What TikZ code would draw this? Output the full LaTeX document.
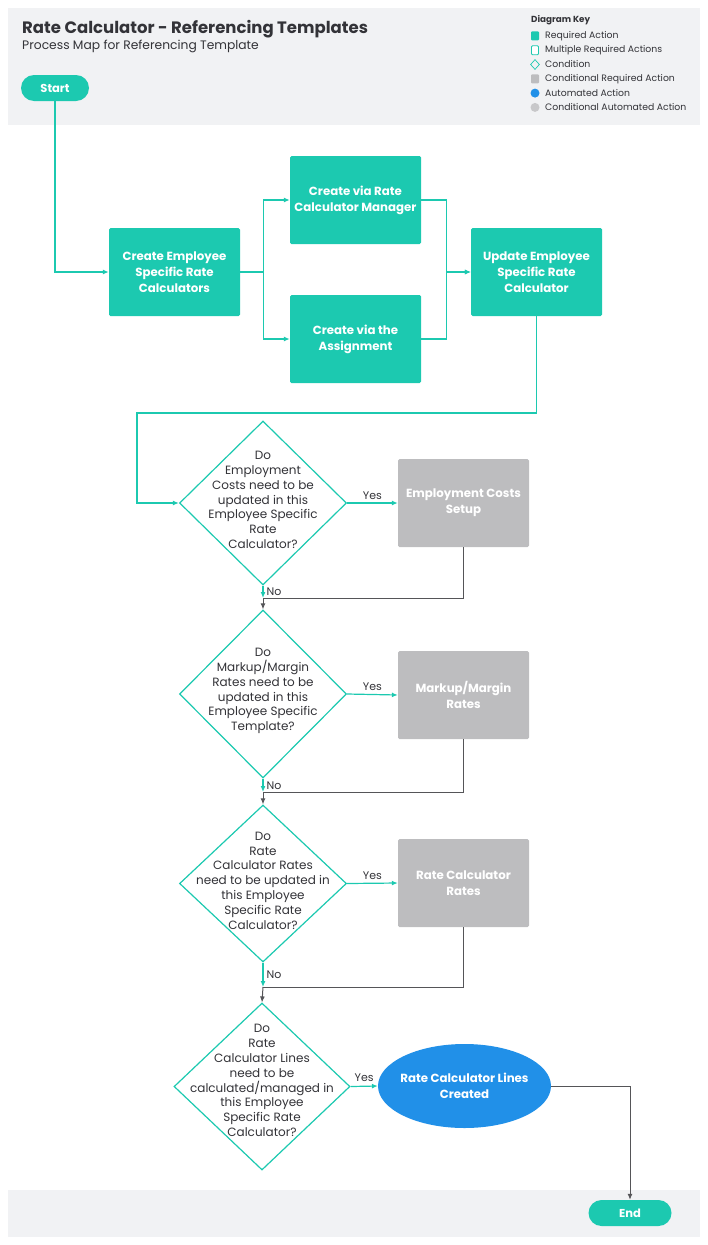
\documentclass[tikz,border=0pt]{standalone}
\usepackage{fontspec}
\setmainfont{Poppins}
\usetikzlibrary{shapes.geometric,arrows.meta}

\definecolor{mapteal}{RGB}{28,201,176}
\definecolor{mapgray}{RGB}{189,189,191}
\definecolor{mapltgray}{RGB}{200,200,202}
\definecolor{mapblue}{RGB}{33,144,232}
\definecolor{mapband}{RGB}{241,242,244}
\definecolor{maptext}{RGB}{51,51,56}
\definecolor{mapline}{RGB}{85,85,88}

\tikzset{
  action/.style={
    rectangle,
    rounded corners=1.5pt,
    fill=mapteal,
    text=white,
    font=\bfseries\fontsize{11.8}{16}\selectfont,
    align=center,
    minimum width=131pt,
    minimum height=88pt,
    inner sep=0pt
  },
  condaction/.style={action, fill=mapgray},
  cond/.style={
    diamond,
    draw=mapteal,
    line width=1.2pt,
    fill=white,
    minimum width=167pt,
    minimum height=164pt,
    inner sep=0pt
  },
  qtext/.style={align=center, text=maptext, font=\fontsize{12}{14.8}\selectfont},
  terminal/.style={
    rectangle,
    rounded corners=13pt,
    fill=mapteal,
    text=white,
    font=\bfseries\fontsize{11.5}{12}\selectfont,
    minimum height=26pt,
    inner sep=0pt
  },
  flow/.style={draw=mapteal, line width=1.2pt, -{Latex[length=6pt,width=5pt]}},
  mergeline/.style={draw=mapline, line width=1pt},
  mergearrow/.style={mergeline, -{Latex[length=6pt,width=5pt]}},
  lbl/.style={text=maptext, font=\fontsize{11}{12}\selectfont, inner sep=1pt},
  keytext/.style={anchor=west, text=maptext, font=\fontsize{9.3}{10}\selectfont, inner sep=0pt},
  keyreq/.style={rectangle, rounded corners=1pt, fill=mapteal, minimum width=8pt, minimum height=9pt, inner sep=0pt},
  keymulti/.style={rectangle, rounded corners=1pt, draw=mapteal, line width=.8pt, fill=white, minimum width=7pt, minimum height=9pt, inner sep=0pt},
  keycond/.style={diamond, draw=mapteal, line width=.7pt, minimum width=9pt, minimum height=10pt, inner sep=0pt},
  keycreq/.style={rectangle, rounded corners=1pt, fill=mapgray, minimum width=8pt, minimum height=9pt, inner sep=0pt},
  keyauto/.style={circle, fill=mapblue, minimum size=9pt, inner sep=0pt},
  keycauto/.style={circle, fill=mapltgray, minimum size=9pt, inner sep=0pt}
}

\begin{document}
\begin{tikzpicture}[x=1pt, y=-1pt]
  \useasboundingbox (0,0) rectangle (708,1245);

  % header and footer bands
  \fill[mapband] (8,8) rectangle (700,125);
  \fill[mapband] (8,1190) rectangle (700,1237);

  \node[anchor=base west, text=maptext, font=\bfseries\fontsize{16.5}{18}\selectfont, inner sep=0pt] (title) at (22,33) {Rate Calculator - Referencing Templates};
  \node[anchor=base west, text=maptext, font=\fontsize{12.3}{13}\selectfont, inner sep=0pt] (subtitle) at (22,49.5) {Process Map for Referencing Template};

  % diagram key
  \node[anchor=base west, text=maptext, font=\bfseries\fontsize{8.8}{9}\selectfont, inner sep=0pt] (keyhead) at (531,22) {Diagram Key};
  \foreach \ic/\txt [count=\k] in {keyreq/Required Action, keymulti/Multiple Required Actions, keycond/Condition, keycreq/Conditional Required Action, keyauto/Automated Action, keycauto/Conditional Automated Action} {
    \node[\ic] (key-\k) at (535,21.6+14.3*\k) {};
    \node[keytext] (keyt-\k) at (545,21.6+14.3*\k) {\txt};
  }

  % terminals
  \node[terminal, minimum width=68pt] (start) at (55,88) {Start};
  \node[terminal, minimum width=83pt] (end) at (630,1213) {End};

  % first row of actions
  \node[action] (create) at (174.5,272) {Create Employee\\Specific Rate\\Calculators};
  \node[action] (viamgr) at (355.5,200) {Create via Rate\\Calculator Manager};
  \node[action] (viaasg) at (355.5,339) {Create via the\\Assignment};
  \node[action] (update) at (536.5,272) {Update Employee\\Specific Rate\\Calculator};

  % conditions
  \node[cond, label={[qtext, yshift=3pt]center:{Do\\Employment\\Costs need to be\\updated in this\\Employee Specific\\Rate\\Calculator?}}] (q1) at (263,503) {};
  \node[cond, minimum height=168pt, label={[qtext, yshift=3pt]center:{Do\\Markup/Margin\\Rates need to be\\updated in this\\Employee Specific\\Template?}}] (q2) at (263,694) {};
  \node[cond, minimum height=157pt, label={[qtext, yshift=3pt]center:{Do\\Rate\\Calculator Rates\\need to be updated in\\this Employee\\Specific Rate\\Calculator?}}] (q3) at (263,883.5) {};
  \node[cond, minimum width=176pt, minimum height=167pt, label={[qtext, yshift=6pt]center:{Do\\Rate\\Calculator Lines\\need to be\\calculated/managed in\\this Employee\\Specific Rate\\Calculator?}}] (q4) at (262,1086.5) {};

  % conditional actions
  \node[condaction] (costs) at (463.5,503) {Employment Costs\\Setup};
  \node[condaction] (markup) at (463.5,695) {Markup/Margin\\Rates};
  \node[condaction] (rates) at (463.5,883) {Rate Calculator\\Rates};
  \node[ellipse, fill=mapblue, text=white, font=\bfseries\fontsize{11.8}{15.5}\selectfont, align=center, minimum width=173pt, minimum height=84pt, inner sep=-10pt] (lines) at (464.5,1086) {Rate Calculator Lines\\Created};

  % merge points below the conditions
  \coordinate (m1) at (263,598);
  \coordinate (m2) at (263,792);
  \coordinate (m3) at (263,987);
  \coordinate (loop) at (137,413);

  % connectors
  \draw[flow] (start.south) |- (create.west);
  \draw[flow] (create.east) -- ++(23,0) |- (viamgr.west);
  \draw[flow] (create.east) -- ++(23,0) |- (viaasg.west);
  \draw[flow] (viamgr.east) -- ++(25,0) |- (update.west);
  \draw[flow] (viaasg.east) -- ++(25,0) |- (update.west);
  \draw[flow] (update.south) |- (loop) |- (q1.west);

  \foreach \q/\a in {q1/costs, q2/markup, q3/rates}
    \draw[flow] (\q.east) -- (\a.west) node[lbl, midway, above, yshift=2pt] {Yes};
  \draw[flow] (q4.east) -- (lines.west) node[lbl, midway, above, yshift=3pt] {Yes};

  \foreach \q/\a/\m/\n in {q1/costs/m1/q2, q2/markup/m2/q3, q3/rates/m3/q4} {
    \draw[flow] (\q.south) -- (\m) node[lbl, midway, anchor=west, xshift=2pt] {No};
    \draw[mergeline] (\a.south) |- (\m);
    \draw[mergearrow] (\m) -- (\n.north);
  }

  \draw[mergearrow] (lines.east) -| (end.north);

\end{tikzpicture}
\end{document}
